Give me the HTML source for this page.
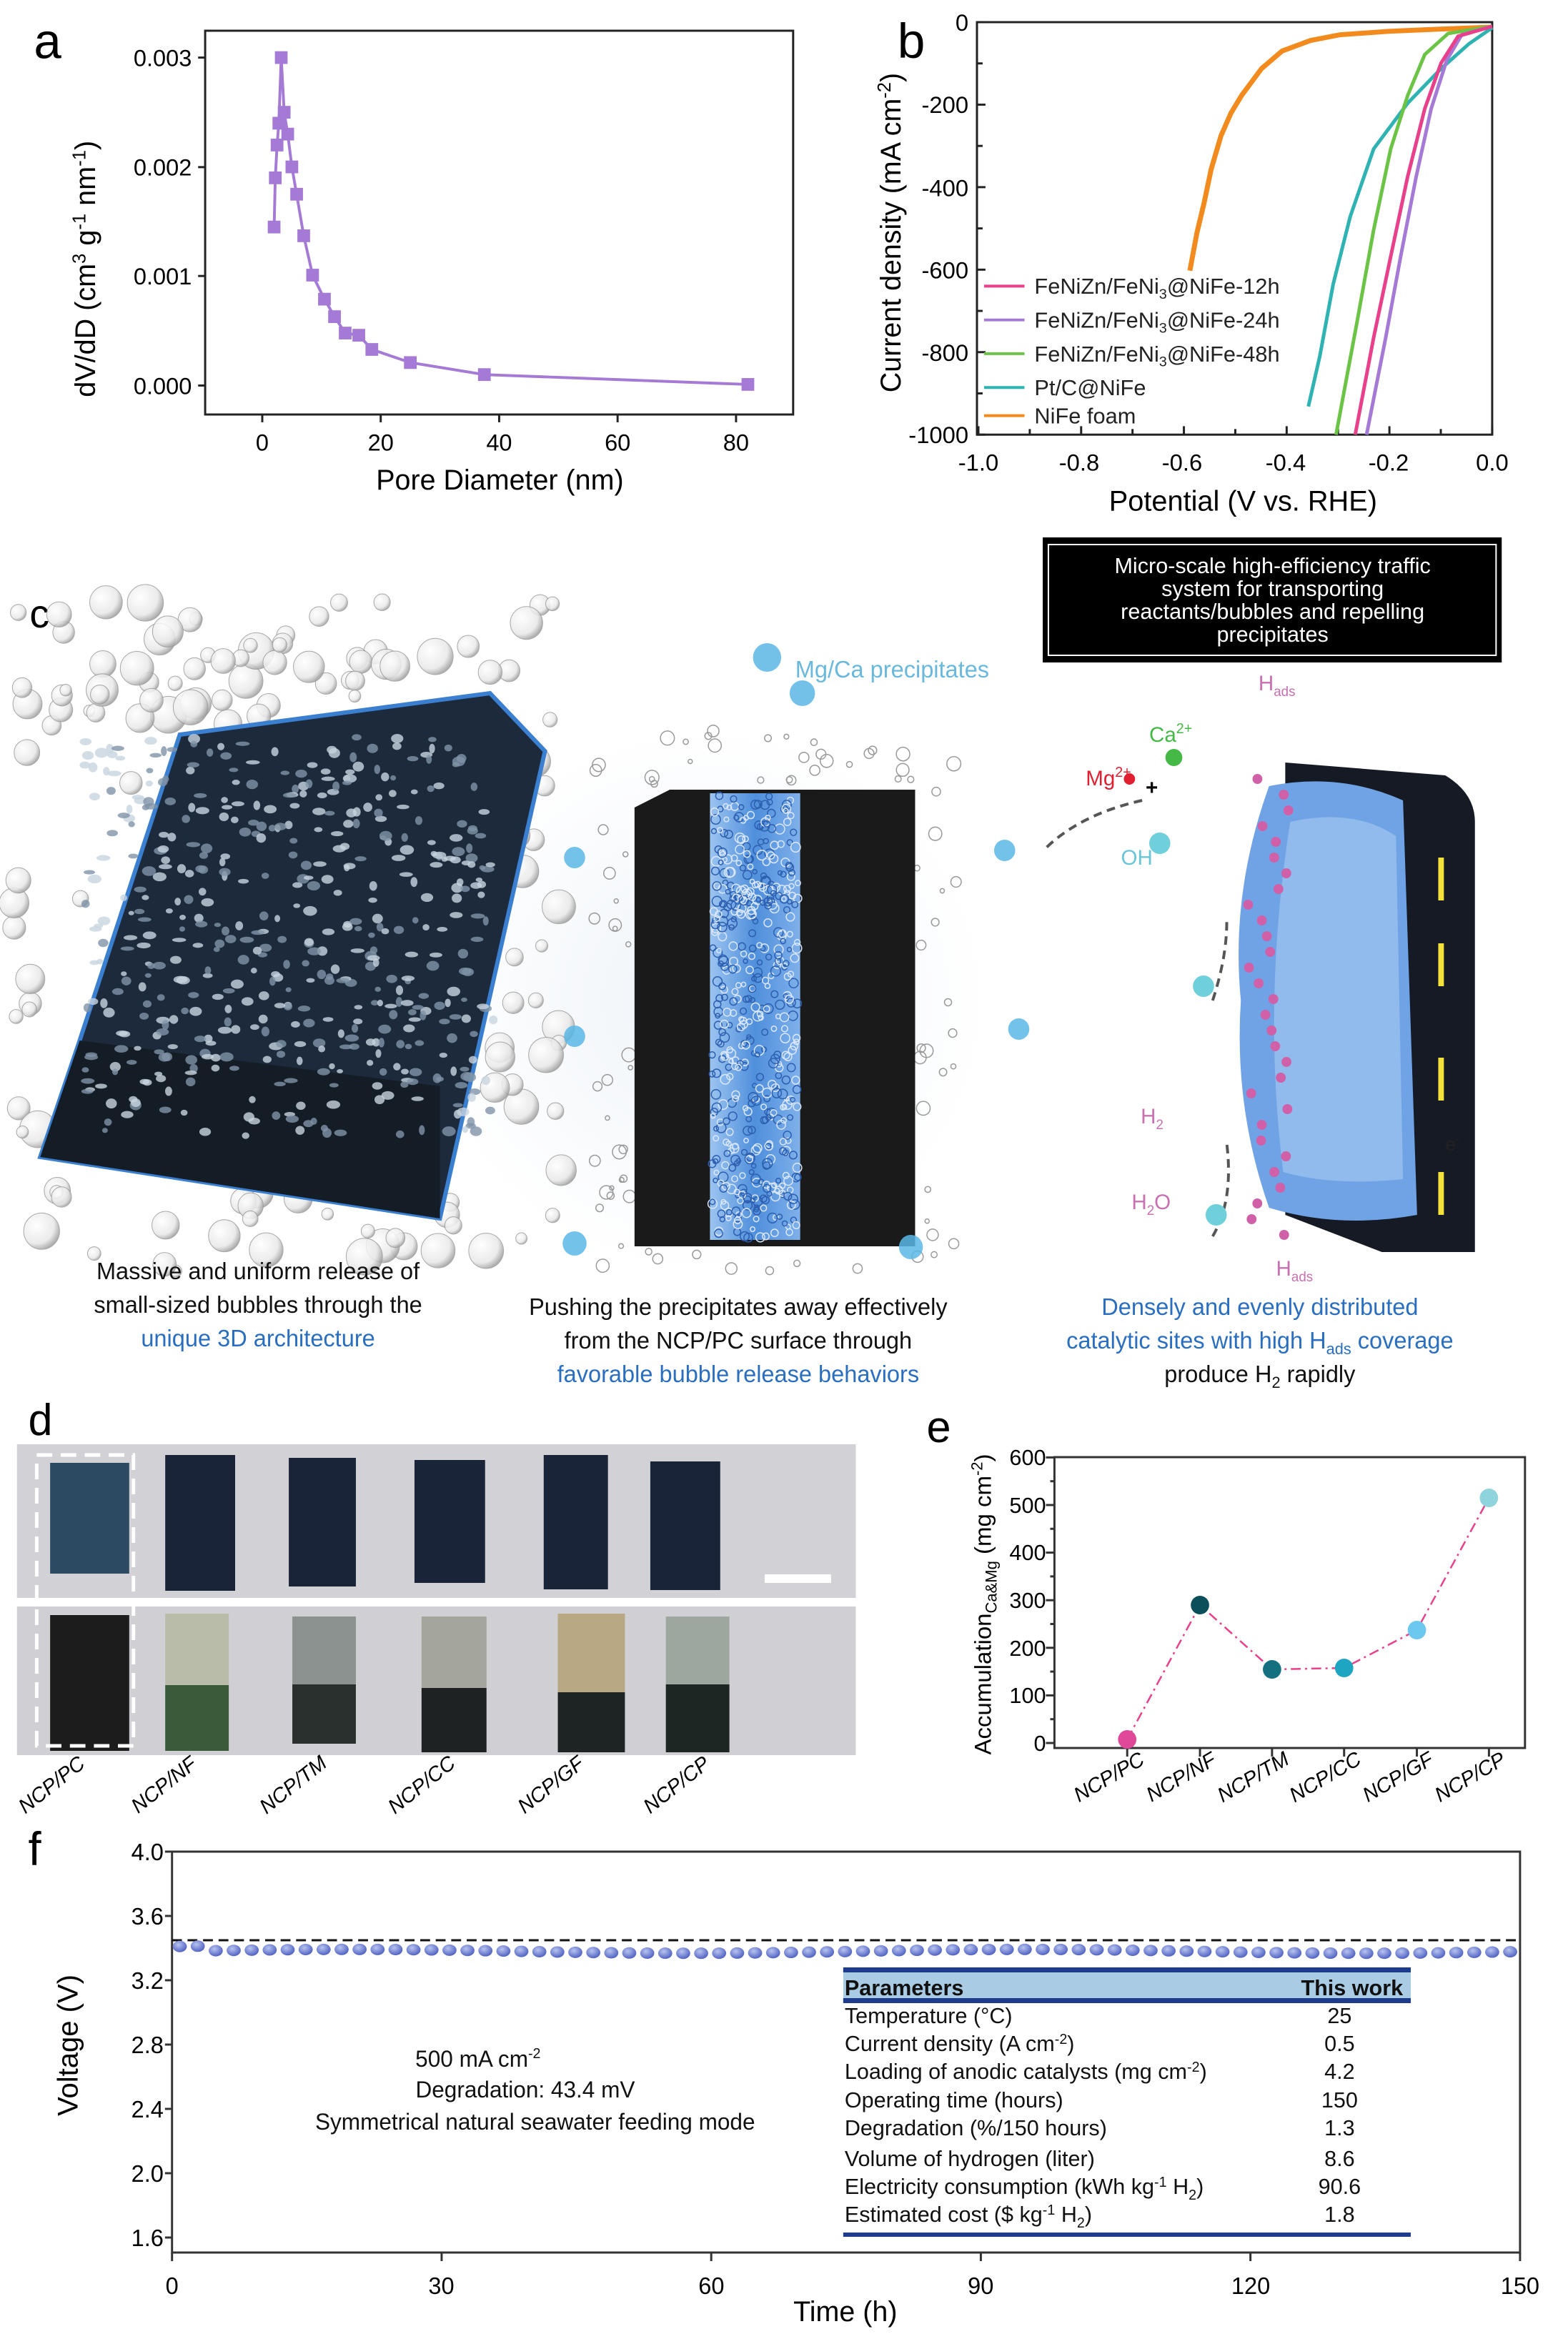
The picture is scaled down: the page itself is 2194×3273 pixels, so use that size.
<!DOCTYPE html>
<html><head><meta charset="utf-8"><style>
html,body{margin:0;padding:0;background:#fff}
svg{display:block}
text{font-family:"Liberation Sans",Arial,sans-serif}
</style></head><body>
<svg id="s" width="2194" height="3273" viewBox="0 0 2194 3273" xmlns="http://www.w3.org/2000/svg">
<defs>
<radialGradient id="bub" cx="0.35" cy="0.35" r="0.7"><stop offset="0" stop-color="#fff"/><stop offset="0.7" stop-color="#e8e8e8"/><stop offset="1" stop-color="#9a9a9a"/></radialGradient>
<radialGradient id="dot" cx="0.4" cy="0.35" r="0.7"><stop offset="0" stop-color="#b8c4f0"/><stop offset="1" stop-color="#4a5cc0"/></radialGradient>
<radialGradient id="glow" cx="0.5" cy="0.5" r="0.5"><stop offset="0" stop-color="#eef3f8"/><stop offset="1" stop-color="#fff"/></radialGradient>
<linearGradient id="blue" x1="0" y1="0" x2="1" y2="0"><stop offset="0" stop-color="#9cc4f0"/><stop offset="0.5" stop-color="#4f8fdc"/><stop offset="1" stop-color="#7fb0ea"/></linearGradient>
</defs>

<!-- ================= Panel a ================= -->
<g transform="matrix(0.9865,0,0,0.989,0,0.47)">
<text x="48" y="82" font-size="70">a</text>
<rect x="291" y="43" width="834" height="543" fill="none" stroke="#222" stroke-width="3"/>
<g stroke="#222" stroke-width="3">
<line x1="291" y1="81" x2="281" y2="81"/><line x1="291" y1="236" x2="281" y2="236"/><line x1="291" y1="390" x2="281" y2="390"/><line x1="291" y1="545" x2="281" y2="545"/>
<line x1="372" y1="586" x2="372" y2="597"/><line x1="540" y1="586" x2="540" y2="597"/><line x1="708" y1="586" x2="708" y2="597"/><line x1="876" y1="586" x2="876" y2="597"/><line x1="1044" y1="586" x2="1044" y2="597"/>
</g>
<g font-size="33" text-anchor="end"><text x="272" y="93">0.003</text><text x="272" y="248">0.002</text><text x="272" y="402">0.001</text><text x="272" y="557">0.000</text></g>
<g font-size="33" text-anchor="middle"><text x="372" y="637">0</text><text x="540" y="637">20</text><text x="708" y="637">40</text><text x="876" y="637">60</text><text x="1044" y="637">80</text></g>
<text x="709" y="692" font-size="40" text-anchor="middle">Pore Diameter (nm)</text>
<text transform="translate(135,380) rotate(-90)" font-size="40" text-anchor="middle">dV/dD (cm<tspan font-size="26" dy="-14">3</tspan><tspan dy="14"> g</tspan><tspan font-size="26" dy="-14">-1</tspan><tspan dy="14"> nm</tspan><tspan font-size="26" dy="-14">-1</tspan><tspan dy="14">)</tspan></text>
<g id="pa"></g>
</g>

<!-- ================= Panel b ================= -->
<g transform="matrix(0.993,0,0,0.985,6.59,0.47)">
<text x="1258" y="82" font-size="70">b</text>
<rect x="1370" y="31" width="726" height="586" fill="none" stroke="#222" stroke-width="3"/>
<g stroke="#222" stroke-width="3" id="btk"></g>
<g font-size="33" text-anchor="end"><text x="1358" y="43">0</text><text x="1358" y="160">-200</text><text x="1358" y="278">-400</text><text x="1358" y="395">-600</text><text x="1358" y="512">-800</text><text x="1358" y="629">-1000</text></g>
<g font-size="33" text-anchor="middle"><text x="1372" y="668">-1.0</text><text x="1514" y="668">-0.8</text><text x="1659" y="668">-0.6</text><text x="1805" y="668">-0.4</text><text x="1950" y="668">-0.2</text><text x="2096" y="668">0.0</text></g>
<text x="1745" y="725" font-size="40" text-anchor="middle">Potential (V vs. RHE)</text>
<text transform="translate(1262,330) rotate(-90)" font-size="40" text-anchor="middle">Current density (mA cm<tspan font-size="26" dy="-14">-2</tspan><tspan dy="14">)</tspan></text>
<g fill="none" stroke-width="5" stroke-linejoin="round">
<polyline stroke="#f28a1e" stroke-width="7" points="1670,384 1680,330 1690,288 1700,240 1714,192 1728,160 1743,135 1771,97 1800,72 1840,57 1881,49 1950,44 2020,41 2096,38"/>
<polyline stroke="#2fb2b2" points="1837,577 1853,506 1872,403 1896,307 1929,211 1977,146 2024,97 2063,62 2096,39"/>
<polyline stroke="#6cc447" points="1876,617 1905,460 1929,326 1953,211 1977,135 2001,77 2034,47 2096,37"/>
<polyline stroke="#a57ad6" points="1919,617 1946,479 1967,364 1989,250 2010,154 2032,85 2053,49 2096,37"/>
<polyline stroke="#e8408a" points="1903,617 1929,479 1953,364 1977,250 2001,154 2024,89 2048,51 2096,37"/>
</g>
<g stroke-width="4">
<line x1="1380" y1="406" x2="1437" y2="406" stroke="#e8408a"/>
<line x1="1380" y1="454" x2="1437" y2="454" stroke="#a57ad6"/>
<line x1="1380" y1="502" x2="1437" y2="502" stroke="#6cc447"/>
<line x1="1380" y1="550" x2="1437" y2="550" stroke="#2fb2b2"/>
<line x1="1380" y1="590" x2="1437" y2="590" stroke="#f28a1e"/>
</g>
<g font-size="31" fill="#222">
<text x="1451" y="417">FeNiZn/FeNi<tspan font-size="20" dy="7">3</tspan><tspan dy="-7">@NiFe-12h</tspan></text>
<text x="1451" y="465">FeNiZn/FeNi<tspan font-size="20" dy="7">3</tspan><tspan dy="-7">@NiFe-24h</tspan></text>
<text x="1451" y="513">FeNiZn/FeNi<tspan font-size="20" dy="7">3</tspan><tspan dy="-7">@NiFe-48h</tspan></text>
<text x="1451" y="561">Pt/C@NiFe</text>
<text x="1451" y="601">NiFe foam</text>
</g>
</g>

<!-- ================= Panel c ================= -->
<g transform="scale(0.9865,1)">
<text x="42" y="878" font-size="56">c</text>
<rect x="1479" y="752" width="651" height="175" fill="#000"/>
<rect x="1487" y="762" width="635" height="155" fill="none" stroke="#fff" stroke-width="2"/>
<g font-size="31" fill="#fff" text-anchor="middle"><text x="1805" y="802">Micro-scale high-efficiency traffic</text><text x="1805" y="834">system for transporting</text><text x="1805" y="866">reactants/bubbles and repelling</text><text x="1805" y="898">precipitates</text></g>

<ellipse cx="1000" cy="1400" rx="400" ry="380" fill="url(#glow)"/>
<g id="bubL"></g>
<polygon points="255,1028 695,970 773,1051 624,1705 57,1619 113,1456" fill="#1c2a3c" stroke="#3a7fd0" stroke-width="6"/>
<polygon points="113,1456 624,1520 624,1705 57,1619" fill="#141c26"/>
<g id="texL"></g>
<g id="bubM"></g>
<polygon points="900,1130 950,1105 1298,1105 1298,1744 900,1744" fill="#1a1a1a"/>
<rect x="1007" y="1110" width="128" height="625" fill="url(#blue)"/>
<g id="texM"></g>
<text x="1128" y="948" font-size="33" fill="#6ab8dc">Mg/Ca precipitates</text>
<g fill="#5bb7e6" opacity="0.85">
<circle cx="1088" cy="920" r="20"/><circle cx="1138" cy="970" r="18"/><circle cx="815" cy="1200" r="15"/><circle cx="815" cy="1450" r="15"/><circle cx="1425" cy="1190" r="15"/><circle cx="1445" cy="1440" r="15"/><circle cx="815" cy="1740" r="17"/><circle cx="1292" cy="1745" r="17"/>
</g>
<path d="M1823,1067 L2050,1085 Q2092,1110 2092,1150 L2092,1752 L1960,1752 L1823,1700 Z" fill="#151a24"/>
<path d="M1800,1100 Q1900,1080 1990,1120 L2010,1700 Q1900,1720 1800,1690 Q1750,1550 1760,1400 Q1745,1250 1800,1100Z" fill="#6fa3e6"/>
<path d="M1830,1150 Q1920,1130 1980,1170 L1990,1650 Q1890,1660 1820,1640 Q1790,1400 1830,1150Z" fill="#a9c9f2" opacity="0.6"/>
<g id="pinkdots"></g>
<g fill="#f4e23a"><rect x="2040" y="1200" width="8" height="60"/><rect x="2040" y="1320" width="8" height="60"/><rect x="2040" y="1480" width="8" height="60"/><rect x="2040" y="1640" width="8" height="60"/></g>
<g font-size="30">
<text x="1540" y="1099" fill="#e02030">Mg<tspan font-size="20" dy="-12">2+</tspan></text>
<text x="1630" y="1038" fill="#46b846">Ca<tspan font-size="20" dy="-12">2+</tspan></text>
<text x="1625" y="1112" fill="#000" font-weight="bold">+</text>
<text x="1590" y="1210" fill="#6ac6d6">OH<tspan dy="-10">−</tspan></text>
<text x="1785" y="966" fill="#c870b0">H<tspan font-size="19" dy="8">ads</tspan></text>
<text x="1618" y="1572" fill="#c870b0">H<tspan font-size="19" dy="8">2</tspan></text>
<text x="1605" y="1692" fill="#c870b0">H<tspan font-size="19" dy="8">2</tspan><tspan dy="-8">O</tspan></text>
<text x="1810" y="1785" fill="#c870b0">H<tspan font-size="19" dy="8">ads</tspan></text>
<text x="2050" y="1610" fill="#222" font-size="26">e<tspan font-size="18" dy="-10">-</tspan></text>
</g>
<circle cx="1602" cy="1090" r="8" fill="#e02030"/><circle cx="1665" cy="1060" r="12" fill="#46b846"/>
<path d="M1620,1120 Q1530,1140 1480,1190" fill="none" stroke="#555" stroke-width="4" stroke-dasharray="12,8"/>
<path d="M1720,1400 Q1740,1340 1740,1290" fill="none" stroke="#555" stroke-width="4" stroke-dasharray="12,8"/>
<path d="M1720,1730 Q1750,1680 1740,1600" fill="none" stroke="#555" stroke-width="4" stroke-dasharray="12,8"/>
<g fill="#6fd0dc"><circle cx="1645" cy="1180" r="15"/><circle cx="1707" cy="1380" r="15"/><circle cx="1725" cy="1700" r="15"/></g>

<g font-size="33" text-anchor="middle">
<text x="366" y="1790" fill="#111">Massive and uniform release of</text>
<text x="366" y="1837" fill="#111">small-sized bubbles through the</text>
<text x="366" y="1884" fill="#2a6ec0">unique 3D architecture</text>
<text x="1047" y="1840" fill="#111">Pushing the precipitates away effectively</text>
<text x="1047" y="1887" fill="#111">from the NCP/PC surface through</text>
<text x="1047" y="1934" fill="#2a6ec0">favorable bubble release behaviors</text>
<text x="1787" y="1840" fill="#2a6ec0">Densely and evenly distributed</text>
<text x="1787" y="1887" fill="#2a6ec0">catalytic sites with high H<tspan font-size="22" dy="8">ads</tspan><tspan dy="-8"> coverage</tspan></text>
<text x="1787" y="1934" fill="#111">produce H<tspan font-size="22" dy="8">2</tspan><tspan dy="-8"> rapidly</tspan></text>
</g>
</g>

<!-- ================= Panel d ================= -->
<g transform="scale(0.988,1)">
<text x="40" y="2008" font-size="62">d</text>
<rect x="24" y="2021" width="1188" height="215" fill="#d2d2d6"/>
<rect x="24" y="2248" width="1188" height="208" fill="#cfcfd4"/>
<g fill="#1a2438">
<rect x="71" y="2047" width="112" height="155" fill="#2c4a62"/>
<rect x="234" y="2036" width="99" height="190"/>
<rect x="409" y="2040" width="95" height="180"/>
<rect x="587" y="2043" width="100" height="172"/>
<rect x="770" y="2036" width="91" height="188"/>
<rect x="921" y="2045" width="99" height="180"/>
</g>
<rect x="1083" y="2203" width="94" height="12" fill="#fff"/>
<rect x="71" y="2260" width="112" height="190" fill="#1c1c1c"/>
<rect x="234" y="2258" width="90" height="100" fill="#b8bca8"/><rect x="234" y="2358" width="90" height="92" fill="#3a5a3a"/>
<rect x="414" y="2262" width="90" height="95" fill="#8c9290"/><rect x="414" y="2357" width="90" height="83" fill="#2a302e"/>
<rect x="597" y="2262" width="92" height="100" fill="#a4a69e"/><rect x="597" y="2362" width="92" height="90" fill="#1e2222"/>
<rect x="790" y="2258" width="95" height="110" fill="#b8a884"/><rect x="790" y="2368" width="95" height="84" fill="#1e2424"/>
<rect x="943" y="2262" width="90" height="95" fill="#9ea6a0"/><rect x="943" y="2357" width="90" height="95" fill="#1e2624"/>
<rect x="52" y="2036" width="137" height="407" fill="none" stroke="#fff" stroke-width="5" stroke-dasharray="22,12"/>
<g font-size="29" font-style="italic" text-anchor="middle">
<text transform="translate(79,2505) rotate(-38)">NCP/PC</text>
<text transform="translate(238,2505) rotate(-38)">NCP/NF</text>
<text transform="translate(421,2505) rotate(-38)">NCP/TM</text>
<text transform="translate(603,2505) rotate(-38)">NCP/CC</text>
<text transform="translate(786,2505) rotate(-38)">NCP/GF</text>
<text transform="translate(964,2505) rotate(-38)">NCP/CP</text>
</g>
</g>

<!-- ================= Panel e ================= -->
<g transform="matrix(0.9886,0,0,1,14.25,0)">
<text x="1297" y="2018" font-size="62">e</text>
<rect x="1478" y="2039" width="666" height="407" fill="none" stroke="#333" stroke-width="3"/>
<g stroke="#333" stroke-width="3" id="etk"></g>
<g font-size="31" text-anchor="end"><text x="1466" y="2050">600</text><text x="1466" y="2117">500</text><text x="1466" y="2183">400</text><text x="1466" y="2250">300</text><text x="1466" y="2317">200</text><text x="1466" y="2383">100</text><text x="1466" y="2450">0</text></g>
<text transform="translate(1388,2245) rotate(-90)" font-size="33" text-anchor="middle">Accumulation<tspan font-size="22" dy="8">Ca&amp;Mg</tspan><tspan dy="-8"> (mg cm</tspan><tspan font-size="22" dy="-12">-2</tspan><tspan dy="12">)</tspan></text>
<polyline points="1581,2434 1684,2246 1786,2336 1888,2334 1991,2281 2093,2096" fill="none" stroke="#e8408a" stroke-width="2.5" stroke-dasharray="14,6,3,6"/>
<g>
<circle cx="1581" cy="2434" r="13" fill="#e0489a"/>
<circle cx="1684" cy="2246" r="13" fill="#0b4f5a"/>
<circle cx="1786" cy="2336" r="13" fill="#14707e"/>
<circle cx="1888" cy="2334" r="13" fill="#1ea5c2"/>
<circle cx="1991" cy="2281" r="13" fill="#6cc8ef"/>
<circle cx="2093" cy="2096" r="13" fill="#8fd3dc"/>
</g>
<g font-size="29" font-style="italic" text-anchor="middle">
<text transform="translate(1560,2495) rotate(-30)">NCP/PC</text>
<text transform="translate(1662,2495) rotate(-30)">NCP/NF</text>
<text transform="translate(1764,2495) rotate(-30)">NCP/TM</text>
<text transform="translate(1866,2495) rotate(-30)">NCP/CC</text>
<text transform="translate(1969,2495) rotate(-30)">NCP/GF</text>
<text transform="translate(2071,2495) rotate(-30)">NCP/CP</text>
</g>
</g>

<!-- ================= Panel f ================= -->
<g transform="scale(0.9865,1)">
<text x="40" y="2610" font-size="66">f</text>
<rect x="244" y="2591" width="1912" height="561" fill="none" stroke="#333" stroke-width="3"/>
<g stroke="#333" stroke-width="3" id="ftk"></g>
<g font-size="33" text-anchor="end"><text x="232" y="2603">4.0</text><text x="232" y="2693">3.6</text><text x="232" y="2783">3.2</text><text x="232" y="2873">2.8</text><text x="232" y="2963">2.4</text><text x="232" y="3053">2.0</text><text x="232" y="3143">1.6</text></g>
<g font-size="33" text-anchor="middle"><text x="244" y="3210">0</text><text x="626" y="3210">30</text><text x="1009" y="3210">60</text><text x="1391" y="3210">90</text><text x="1774" y="3210">120</text><text x="2156" y="3210">150</text></g>
<text x="1199" y="3248" font-size="40" text-anchor="middle">Time (h)</text>
<text transform="translate(110,2862) rotate(-90)" font-size="40" text-anchor="middle">Voltage (V)</text>
<line x1="244" y1="2715" x2="2156" y2="2715" stroke="#111" stroke-width="3" stroke-dasharray="14,8"/>
<g id="fdots"></g>
<rect x="1196" y="2756" width="805" height="44" fill="#a9cbe3"/>
<rect x="1196" y="2753" width="805" height="7" fill="#1d3c8c"/>
<rect x="1196" y="2796" width="805" height="7" fill="#1d3c8c"/>
<rect x="1196" y="3124" width="805" height="6" fill="#1d3c8c"/>
<g font-size="31" fill="#111">
<text x="1198" y="2792" font-weight="bold">Parameters</text><text x="1990" y="2792" font-weight="bold" text-anchor="end">This work</text>
<text x="1198" y="2831">Temperature (°C)</text>
<text x="1198" y="2870">Current density (A cm<tspan font-size="20" dy="-10">-2</tspan><tspan dy="10">)</tspan></text>
<text x="1198" y="2909">Loading of anodic catalysts (mg cm<tspan font-size="20" dy="-10">-2</tspan><tspan dy="10">)</tspan></text>
<text x="1198" y="2949">Operating time (hours)</text>
<text x="1198" y="2988">Degradation (%/150 hours)</text>
<text x="1198" y="3031">Volume of hydrogen (liter)</text>
<text x="1198" y="3070">Electricity consumption (kWh kg<tspan font-size="20" dy="-10">-1</tspan><tspan dy="10"> H</tspan><tspan font-size="20" dy="8">2</tspan><tspan dy="-8">)</tspan></text>
<text x="1198" y="3109">Estimated cost ($ kg<tspan font-size="20" dy="-10">-1</tspan><tspan dy="10"> H</tspan><tspan font-size="20" dy="8">2</tspan><tspan dy="-8">)</tspan></text>
</g>
<g font-size="31" fill="#111" text-anchor="middle">
<text x="1900" y="2831">25</text><text x="1900" y="2870">0.5</text><text x="1900" y="2909">4.2</text><text x="1900" y="2949">150</text><text x="1900" y="2988">1.3</text><text x="1900" y="3031">8.6</text><text x="1900" y="3070">90.6</text><text x="1900" y="3109">1.8</text>
</g>
<g font-size="32" fill="#111" text-anchor="middle">
<text x="678" y="2892">500 mA cm<tspan font-size="20" dy="-12">-2</tspan></text>
<text x="745" y="2935">Degradation: 43.4 mV</text>
<text x="759" y="2980">Symmetrical natural seawater feeding mode</text>
</g>
</g>
</svg>
<script>
var NS="http://www.w3.org/2000/svg";
function el(p,t,a){var e=document.createElementNS(NS,t);for(var k in a)e.setAttribute(k,a[k]);document.getElementById(p).appendChild(e);return e;}
var pa=[[2,0.00145],[2.2,0.0019],[2.5,0.0022],[2.8,0.0024],[3.2,0.003],[3.7,0.0025],[4.3,0.0023],[5,0.002],[5.8,0.00175],[7,0.00137],[8.5,0.00101],[10.5,0.00079],[12.2,0.00063],[14,0.00048],[16.3,0.00046],[18.5,0.00033],[25,0.00021],[37.5,0.0001],[82,0.00001]];
var pts=pa.map(function(p){return [372+p[0]*8.4,545-p[1]*154667];});
el("pa","polyline",{points:pts.map(function(p){return p.join(",")}).join(" "),fill:"none",stroke:"#a57ad6","stroke-width":4});
pts.forEach(function(p){el("pa","rect",{x:p[0]-9,y:p[1]-9,width:18,height:18,fill:"#a57ad6"});});
for(var i=0;i<=10;i++){var x=1372+i*72.4;el("btk","line",{x1:x,y1:617,x2:x,y2:i%2?609:605});}
for(var j=0;j<=10;j++){var y=31+j*58.6;el("btk","line",{x1:1370,y1:y,x2:j%2?1378:1382,y2:y});}
for(var j=0;j<=12;j++){var y=2439-j*33.3;el("etk","line",{x1:1478,y1:y,x2:j%2?1472:1466,y2:y});}
[1581,1684,1786,1888,1991,2093].forEach(function(x){el("etk","line",{x1:x,y1:2446,x2:x,y2:2458});});
for(var j=0;j<7;j++){var y=2591+j*90;el("ftk","line",{x1:244,y1:y,x2:234,y2:y});}
for(var i=0;i<=5;i++){var x=244+i*382.4;el("ftk","line",{x1:x,y1:3152,x2:x,y2:3164});}
for(var i=0;i<75;i++){var x=255+i*25.5;var v=3.38+0.012*Math.sin(i/6)-(i<2?-0.03:0);var y=2591+(4.0-v)*225;el("fdots","ellipse",{cx:x,cy:y,rx:10,ry:8,fill:"url(#dot)"});}
var seed=7;function r(){seed=(seed*9301+49297)%233280;return seed/233280;}
for(var i=0;i<260;i++){var x=20+r()*780,y=840+r()*940;if(x>60&&x<700&&y>1050&&y<1650&&r()<0.85)continue;var rr=8+r()*18;el("bubL","circle",{cx:x,cy:y,r:rr,fill:"url(#bub)",stroke:"#999","stroke-width":1,opacity:0.85});}
for(var i=0;i<500;i++){var x=120+r()*580,y=1030+r()*560;el("texL","ellipse",{cx:x,cy:y,rx:4+r()*6,ry:3+r()*4,fill:r()<0.5?"#c8d4e0":"#7f93a8",opacity:0.8});}
for(var i=0;i<240;i++){var x=840+r()*520,y=1020+r()*760;if(x>895&&x<1300&&y>1100&&y<1745)continue;el("bubM","circle",{cx:x,cy:y,r:3+r()*7,fill:"none",stroke:"#999","stroke-width":1.5});}
for(var i=0;i<500;i++){el("texM","circle",{cx:1010+r()*122,cy:1112+r()*620,r:3+r()*4,fill:"none",stroke:r()<0.5?"#dbe8ff":"#2d5fb0","stroke-width":1.5});}
for(var i=0;i<30;i++){var y=1090+i*22;var x=1770+(r()*60);el("pinkdots","circle",{cx:x,cy:y,r:7,fill:"#d060a8"});}
</script>
</body></html>
